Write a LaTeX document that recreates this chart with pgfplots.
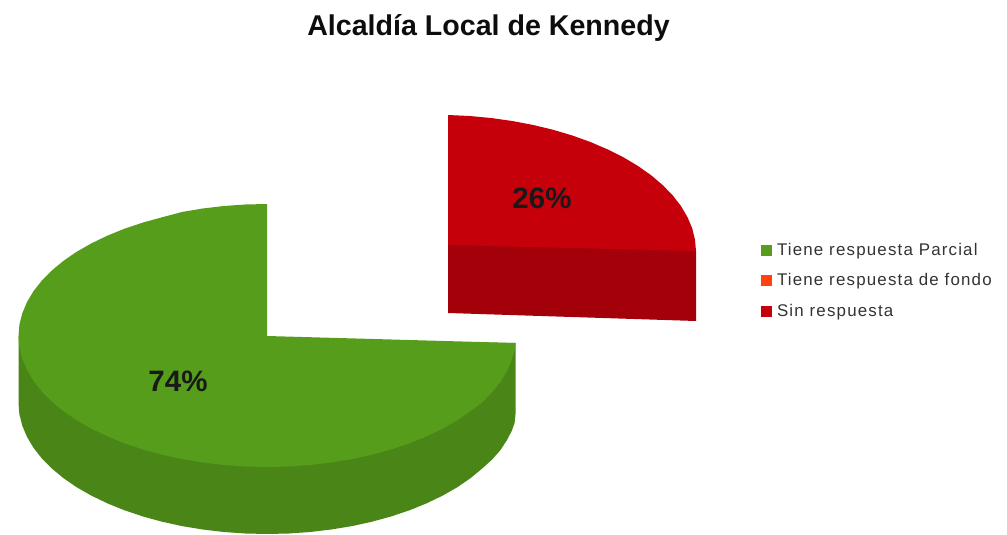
\documentclass[border=0pt]{standalone}
\usepackage{fontspec}
\setmainfont{Liberation Sans}
\usepackage{pgfplots}
\pgfplotsset{compat=1.18}
\definecolor{greentop}{HTML}{579D1C}
\definecolor{greenwall}{HTML}{4A8517}
\definecolor{redtop}{HTML}{C5000B}
\definecolor{redwall}{HTML}{A30009}
\definecolor{orangekey}{HTML}{FF420E}
\begin{document}
\begin{tikzpicture}
\begin{axis}[
    width=1007pt, height=535pt, scale only axis,
    xmin=0, xmax=1007, ymin=0, ymax=535,
    y dir=reverse,
    hide axis,
    clip=false,
    legend cell align=left,
    legend style={draw=none, fill=none, at={(axis cs:761,243)}, anchor=north west,
        font=\fontsize{16.9}{18}\selectfont\addfontfeature{LetterSpace=7}\color{black!80},
        row sep=17pt, inner sep=0pt, outer sep=0pt,
        nodes={inner xsep=6pt, inner ysep=0pt}},
    legend image post style={mark size=5pt},
]
% keeps the page as large as the whole axis
\path (axis cs:0,0) rectangle (axis cs:1007,535);
% green slice, side wall
\addplot[fill=greenwall, draw=none, forget plot] coordinates {
(515.5,343) (515.5,414) (514.6,423) (511.7,431) (507,440) (500.5,450) (492.2,459.5)
(482.2,468.5) (470.6,478.1) (457.4,487.2) (442.7,495.6) (426.7,503.3) (409.5,510.3)
(391.3,516.4) (372,521.7) (352,526.1) (331.3,529.5) (310.1,532) (288.7,533.5) (267,534)
(245.3,533.5) (223.9,532) (202.7,529.5) (182,526.1) (162,521.7) (142.7,516.4) (124.5,510.3)
(107.3,503.3) (91.3,495.6) (76.6,487.2) (63.4,478.1) (51.8,468.5) (41.8,458.4) (33.5,447.8)
(27,436.9) (22.3,425.7) (19.4,414.4) (18.5,403) (18.5,336)
} --cycle;
% green slice, top face
\addplot[fill=greentop, draw=none, forget plot] coordinates {
(267,336) (267,204) (245.3,204.5) (223.9,206) (202.7,208.5) (182,212) (162,217.3) (142.7,222.6)
(124.5,228.7) (107.3,235.7) (91.3,243.4) (76.6,251.8) (63.4,260.9) (51.8,270.5) (41.8,280.6)
(33.5,291.2) (27,302.1) (22.3,313.3) (19.4,324.6) (18.5,336) (19.4,347.4) (22.3,358.7)
(27,369.9) (33.5,380.8) (41.8,391.4) (51.8,401.5) (63.4,411.1) (76.6,420.2) (91.3,428.6)
(107.3,436.3) (124.5,443.3) (142.7,449.4) (162,454.7) (182,459.1) (202.7,462.5) (223.9,465)
(245.3,466.5) (267,467) (288.7,466.5) (310.1,465) (331.3,462.5) (352,459.1) (372,454.7)
(391.3,449.4) (409.5,443.3) (426.7,436.3) (442.7,428.6) (457.4,420.2) (470.6,411.1)
(482.2,402.5) (492.2,392) (500.5,382) (507,371) (511.7,360) (514.6,350) (515.5,343)
} --cycle;
% red slice, side wall (runs up under the top face)
\addplot[fill=redwall, draw=none, forget plot] coordinates {
(448,240) (690,246) (696,251) (696,321) (448,313)
} --cycle;
% red slice, top face
\addplot[fill=redtop, draw=none, forget plot] coordinates {
(448,245) (448,115) (469.6,116) (491,118) (512.2,121) (532.8,124.9) (552.8,129.7) (572,135.4)
(590.2,141.9) (607.4,149.3) (623.4,157.3) (638,166) (651.2,175.3) (662.8,185.2) (672.8,195.5)
(681,206.1) (687.5,217.2) (692.2,228.3) (695,239.7) (696,251)
} --cycle;
\addlegendimage{only marks, mark=square*, color=greentop}
\addlegendentry{Tiene respuesta Parcial}
\addlegendimage{only marks, mark=square*, color=orangekey}
\addlegendentry{Tiene respuesta de fondo}
\addlegendimage{only marks, mark=square*, color=redtop}
\addlegendentry{Sin respuesta}
\node[font=\fontsize{28.6}{30}\selectfont\bfseries, color=black!95, anchor=base] at (axis cs:488.5,36) {Alcaldía Local de Kennedy};
\node[font=\fontsize{29.5}{32}\selectfont\bfseries, color=black!90] at (axis cs:178,381) {74\%};
\node[font=\fontsize{29.5}{32}\selectfont\bfseries, color=black!90] at (axis cs:542,198) {26\%};
\end{axis}
\end{tikzpicture}
\end{document}
